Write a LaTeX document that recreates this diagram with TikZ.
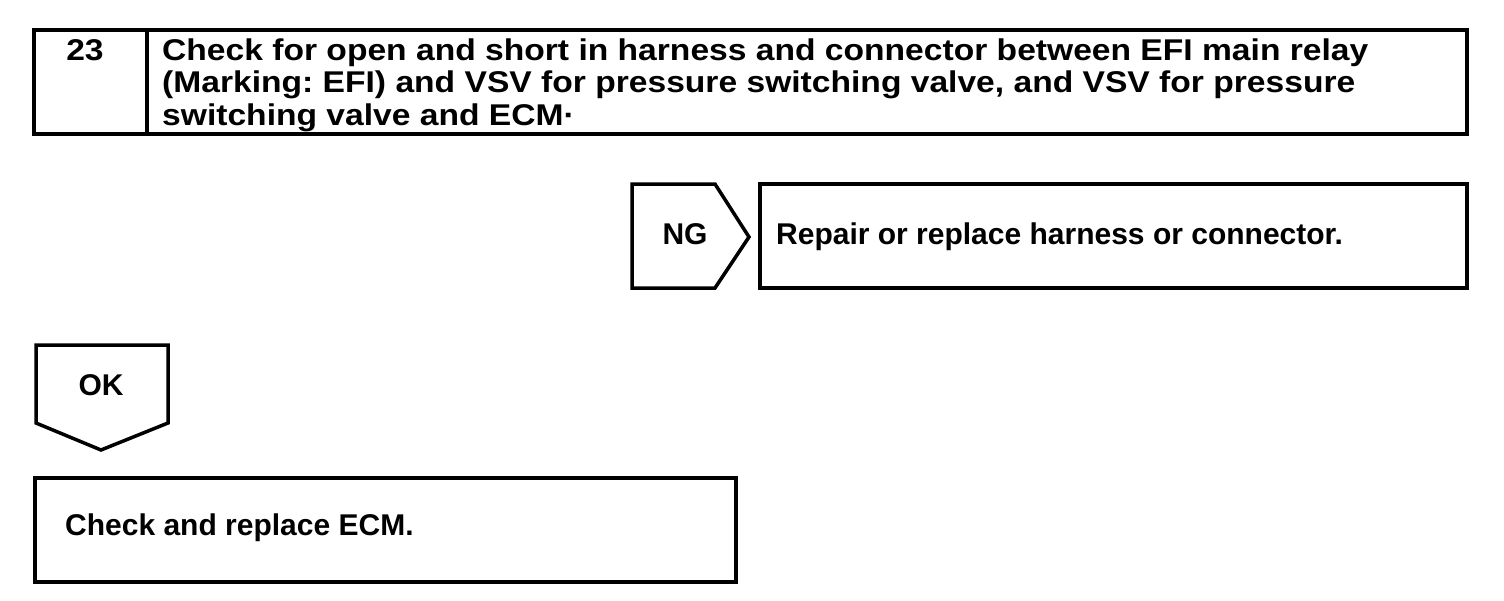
\documentclass[tikz,border=0pt]{standalone}
\usepackage{fontspec}
\setmainfont{Liberation Sans}
\newfontfamily\widefont{Liberation Sans}[FakeStretch=1.12]
\frenchspacing
\begin{document}
\begin{tikzpicture}[x=1pt,y=-1pt,
  frame/.style={draw=black, line width=3.5pt, line join=miter},
  lbl/.style={font=\bfseries\fontsize{30}{31.5}\selectfont, inner sep=0pt, anchor=base west},
  wlbl/.style={font=\widefont\bfseries\fontsize{30}{31.5}\selectfont, inner sep=0pt, anchor=base west}]
\useasboundingbox (0,0) rectangle (1504,600);
% top step box
\draw[frame] (34,30) rectangle (1467,134);
\draw[frame] (147,30) -- (147,134);
\node[wlbl, anchor=base] (num) at (85,60) {23};
\node[wlbl] (t1) at (162,60) {Check for open and short in harness and connector between EFI main relay};
\node[wlbl] (t2) at (162,92.5) {(Marking: EFI) and VSV for pressure switching valve, and VSV for pressure};
\node[wlbl] (t3) at (162,125) {switching valve and ECM·};
% NG
\draw[frame] (632,184) -- (715,184) -- (749,237) -- (715,288) -- (632,288) -- cycle;
\node[lbl, anchor=base] (ng) at (685,244) {NG};
\draw[frame] (760,184) rectangle (1467,288);
\node[lbl] (repair) at (776,244) {Repair or replace harness or connector.};
% OK
\draw[frame] (36,345) -- (168,345) -- (168,423) -- (101,450) -- (36,423) -- cycle;
\node[lbl, anchor=base] (ok) at (101,395) {OK};
\draw[frame] (35,478) rectangle (736,582);
\node[lbl] (ecm) at (65,535) {Check and replace ECM.};
\end{tikzpicture}
\end{document}
